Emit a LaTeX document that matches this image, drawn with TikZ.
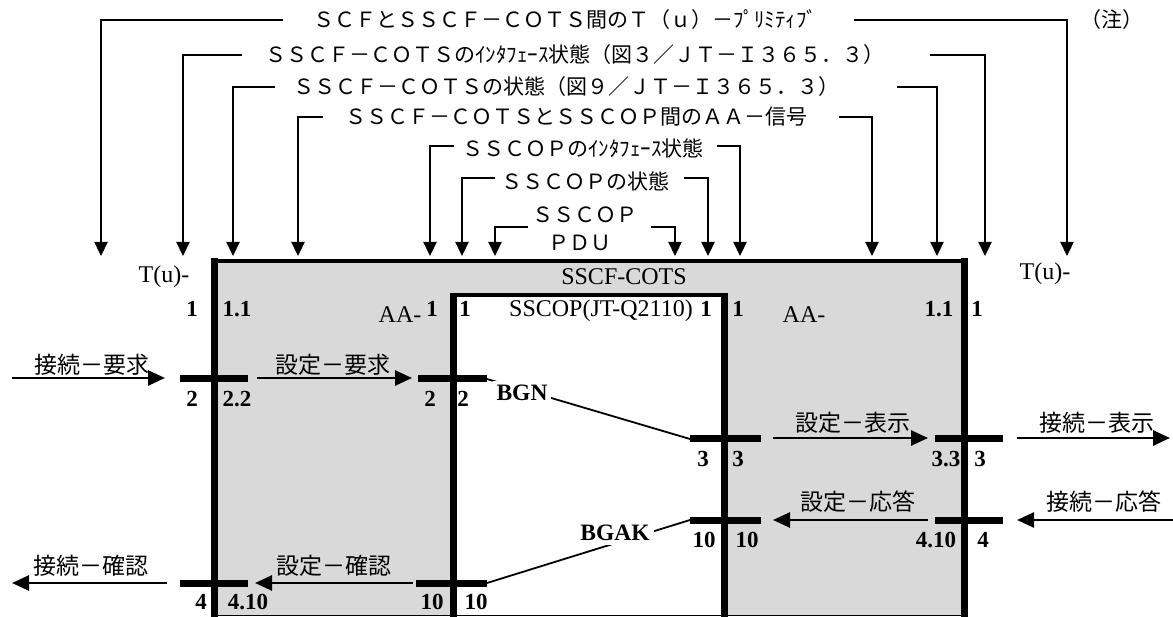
\documentclass[tikz,border=0pt]{standalone}
\usepackage{fontspec}
\setmainfont{Liberation Serif}
\newfontfamily\jpfont{Noto Sans CJK JP}
\usetikzlibrary{arrows.meta}
\definecolor{boxgray}{HTML}{D9D9D9}
\begin{document}
\begin{tikzpicture}[x=1pt,y=-1pt,
  hdr/.style={font=\jpfont\fontsize{21}{21}\selectfont, inner sep=0pt},
  jlab/.style={font=\jpfont\fontsize{23}{23}\selectfont, inner sep=0pt},
  num/.style={font=\bfseries\fontsize{23}{23}\selectfont, inner sep=0pt},
  rlab/.style={font=\fontsize{24}{24}\selectfont, inner sep=0pt},
  pdulab/.style={font=\bfseries\fontsize{23.5}{23.5}\selectfont, fill=white, inner sep=4pt},
  brk/.style={line width=2.3pt, -{Triangle[length=14pt,width=13pt]}},
  thickv/.style={line width=7pt},
  edgeline/.style={line width=3.5pt},
  barline/.style={line width=7pt},
  sig/.style={line width=2.6pt, -{Triangle[length=17pt,width=15pt]}},
  pduline/.style={line width=1.8pt},
]
\useasboundingbox (0,0) rectangle (1173,617);

% ---------- boxes ----------
\fill[boxgray] (214,261) rectangle (965,615);
\fill[white] (453,295) rectangle (724,617);
\draw[line width=1.5pt] (214,615.5) -- (965,615.5);
\draw[edgeline] (211,261) -- (968,261);
\draw[thickv] (214.5,258) -- (214.5,617);
\draw[thickv] (964,258) -- (964,617);
\draw[edgeline] (450,295) -- (727,295);
\draw[thickv] (453,293) -- (453,617);
\draw[thickv] (724,293) -- (724,617);

% ---------- header ----------
\node[hdr] (h1) at (565,20) {ＳＣＦとＳＳＣＦ－ＣＯＴＳ間のＴ（ｕ）－ﾌﾟﾘﾐﾃｨﾌﾞ};
\node[hdr] (h2) at (575,55) {ＳＳＣＦ－ＣＯＴＳのｲﾝﾀﾌｪｰｽ状態（図３／ＪＴ－Ｉ３６５．３）};
\node[hdr] (h3) at (566,87) {ＳＳＣＦ－ＣＯＴＳの状態（図９／ＪＴ－Ｉ３６５．３）};
\node[hdr] (h4) at (576,117) {ＳＳＣＦ－ＣＯＴＳとＳＳＣＯＰ間のＡＡ－信号};
\node[hdr] (h5) at (583,148) {ＳＳＣＯＰのｲﾝﾀﾌｪｰｽ状態};
\node[hdr] (h6) at (585,181) {ＳＳＣＯＰの状態};
\node[hdr] (h7) at (585,215) {ＳＳＣＯＰ};
\node[hdr] (h8) at (580,243) {ＰＤＵ};
\node[hdr] (note) at (1112,20) {（注）};

\coordinate (a1l) at (283,20);  \coordinate (t1l) at (101,256);
\coordinate (a1r) at (854,20);  \coordinate (t1r) at (1067,256);
\coordinate (a2l) at (242,55);  \coordinate (t2l) at (183,256);
\coordinate (a2r) at (930,55);  \coordinate (t2r) at (985,256);
\coordinate (a3l) at (275,87);  \coordinate (t3l) at (233,256);
\coordinate (a3r) at (897,87);  \coordinate (t3r) at (937,256);
\coordinate (a4l) at (323,117); \coordinate (t4l) at (298,256);
\coordinate (a4r) at (839,117); \coordinate (t4r) at (872,256);
\coordinate (a5l) at (454,146); \coordinate (t5l) at (430,256);
\coordinate (a5r) at (717,146); \coordinate (t5r) at (740,256);
\coordinate (a6l) at (495,178); \coordinate (t6l) at (462,256);
\coordinate (a6r) at (684,178); \coordinate (t6r) at (708,256);
\coordinate (a7l) at (528,227); \coordinate (t7l) at (495,256);
\coordinate (a7r) at (651,227); \coordinate (t7r) at (675,256);
\foreach \i in {1,...,7}{
  \draw[brk] (a\i l) -| (t\i l);
  \draw[brk] (a\i r) -| (t\i r);
}

% ---------- top labels ----------
\node[rlab] (tuL) at (164,277) {T(u)-};
\node[rlab] (tuR) at (1045,274) {T(u)-};
\node[rlab] (sscf) at (624,277) {SSCF-COTS};
\node[rlab] (sscop) at (601,311) {SSCOP(JT-Q2110)};
\node[rlab] (aaL) at (400,315) {AA-};
\node[rlab] (aaR) at (804,315) {AA-};
\node[num] (n01) at (192,309) {1};
\node[num] (n02) at (237,309) {1.1};
\node[num] (n03) at (432,309) {1};
\node[num] (n04) at (465,309) {1};
\node[num] (n05) at (706,309) {1};
\node[num] (n06) at (738,309) {1};
\node[num] (n07) at (939,309) {1.1};
\node[num] (n08) at (977,309) {1};

% ---------- state bars ----------
\coordinate (bA1l) at (180,379); \coordinate (bA1r) at (248,379);
\coordinate (bA2l) at (418,379); \coordinate (bA2r) at (487,379);
\coordinate (bB1l) at (690,439); \coordinate (bB1r) at (761,439);
\coordinate (bB2l) at (935,439); \coordinate (bB2r) at (1003,439);
\coordinate (bC1l) at (690,520); \coordinate (bC1r) at (761,520);
\coordinate (bC2l) at (935,520); \coordinate (bC2r) at (1003,520);
\coordinate (bD1l) at (180,583); \coordinate (bD1r) at (248,583);
\coordinate (bD2l) at (416,583); \coordinate (bD2r) at (487,583);
\foreach \r in {A,B,C,D}{
  \draw[barline] (b\r1l) -- (b\r1r);
  \draw[barline] (b\r2l) -- (b\r2r);
}

% ---------- state numbers ----------
\node[num] (nA1) at (192,399) {2};
\node[num] (nA2) at (237,399) {2.2};
\node[num] (nA3) at (430,399) {2};
\node[num] (nA4) at (463,399) {2};
\node[num] (nB1) at (703,459) {3};
\node[num] (nB2) at (738,459) {3};
\node[num] (nB3) at (946,459) {3.3};
\node[num] (nB4) at (980,459) {3};
\node[num] (nC1) at (704,540) {10};
\node[num] (nC2) at (747,540) {10};
\node[num] (nC3) at (936,540) {4.10};
\node[num] (nC4) at (983,540) {4};
\node[num] (nD1) at (201,602) {4};
\node[num] (nD2) at (248,602) {4.10};
\node[num] (nD3) at (432,602) {10};
\node[num] (nD4) at (476,602) {10};

% ---------- primitives / signals ----------
\coordinate (sA1s) at (12,378);   \coordinate (sA1e) at (165,378);
\coordinate (sA2s) at (257,378);  \coordinate (sA2e) at (412,378);
\coordinate (sB1s) at (773,438);  \coordinate (sB1e) at (928,438);
\coordinate (sB2s) at (1017,438); \coordinate (sB2e) at (1170,438);
\coordinate (sC1s) at (928,520);  \coordinate (sC1e) at (773,520);
\coordinate (sC2s) at (1173,520); \coordinate (sC2e) at (1017,520);
\coordinate (sD1s) at (167,583);  \coordinate (sD1e) at (12,583);
\coordinate (sD2s) at (413,583);  \coordinate (sD2e) at (255,583);
\foreach \r in {A,B,C,D}{
  \draw[sig] (s\r1s) -- (s\r1e);
  \draw[sig] (s\r2s) -- (s\r2e);
}
\node[jlab] (pA1) at (92,365) {接続－要求};
\node[jlab] (pA2) at (333,365) {設定－要求};
\node[jlab] (pB1) at (853,423) {設定－表示};
\node[jlab] (pB2) at (1097,423) {接続－表示};
\node[jlab] (pC1) at (858,502) {設定－応答};
\node[jlab] (pC2) at (1104,502) {接続－応答};
\node[jlab] (pD1) at (91,566) {接続－確認};
\node[jlab] (pD2) at (334,566) {設定－確認};

% ---------- PDUs ----------
\draw[pduline] (bA2r) -- (bB1l);
\draw[pduline] (bD2r) -- (bC1l);
\node[pdulab] (bgn) at (522,393) {BGN};
\node[pdulab] (bgak) at (615,533) {BGAK};
\end{tikzpicture}
\end{document}
